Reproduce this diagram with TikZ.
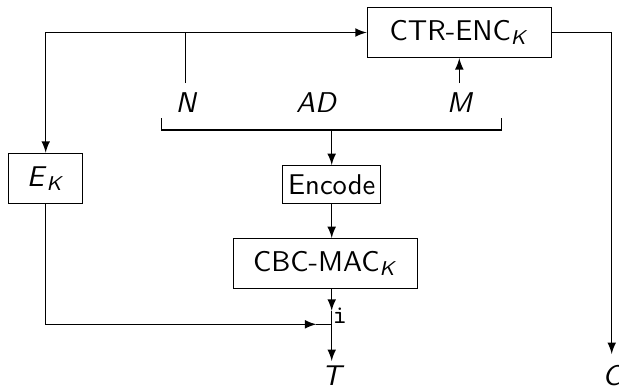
\documentclass[tikz,border=0pt]{standalone}
\usetikzlibrary{positioning,arrows}
\tikzstyle{block}=[draw,rectangle,inner sep=0pt]
\tikzstyle{invar}=[font=\sffamily\itshape]
\tikzstyle{outvar}=[font=\sffamily\itshape,anchor=north]
\newcommand{\newBlock}[5]{\node[block,minimum width=#3,minimum height=#4](#1) at #5 {#2};}
\newcommand{\sub}[1]{\textsubscript{\textit{#1}}}

\begin{document}
\begin{tikzpicture}[x=0.35pt,y=-0.35pt,
    >=latex,thin,font=\sffamily
    ]
    \useasboundingbox (0,0) rectangle (619,386);
    \newBlock{ctr}{CTR-ENC\sub{K}}{64.4pt}{17.5pt}{(459.3,32.5)}
    \newBlock{ek}{\textit{E}\sub{K}}{26pt}{17.5pt}{(45.7,178.3)}
    \newBlock{enc}{Encode}{34.3pt}{13.2pt}{(331.7,184.5)}
    \newBlock{cbc}{CBC-MAC\sub{K}}{64.4pt}{17.4pt}{(325.3,263.5)}
    \node[invar] (N) at (185.7,103) {N};
    \node[invar] (AD) at (316,103) {AD};
    \node[invar] (M) at (459.3,103) {M};
    \node[outvar,inner sep=1.5pt] (T) at (331.7,361) {T};
    \node[outvar,inner sep=3.6pt] (C) at (611.7,354) {C};
    % xor point, its symbol came out as a plain i
    \node[inner sep=0pt,minimum width=10.3pt,minimum height=9.1pt,
      label={[font=\ttfamily\small,inner sep=0pt,xshift=2.9pt,yshift=2.9pt]center:i}]
      (xor) at (331.7,324.3) {};
    \coordinate (brl) at (161.3,118);
    \coordinate (brr) at (501.7,118);
    \coordinate (brm) at (331.7,130);
    \draw (brl) |- (brr |- brm) -- (brr);
    \draw[->] (brm) -- (enc);
    \draw[->] (N.north) |- (ctr.west);
    \draw[->] (N |- ctr.west) -| (ek.north);
    \draw[->] (M) -- (ctr.south);
    \draw[->] (ctr.east) -| (C.north);
    \draw[->] (enc.south) -- (enc.south |- cbc.north);
    \draw[->] (cbc.south -| xor) -- (xor.north);
    \draw[->] (ek.south) |- (xor.west);
    \draw (xor.west) -- (xor.center);
    \draw[->] (xor.north) -- (T.north);
  \end{tikzpicture}
\end{document}
